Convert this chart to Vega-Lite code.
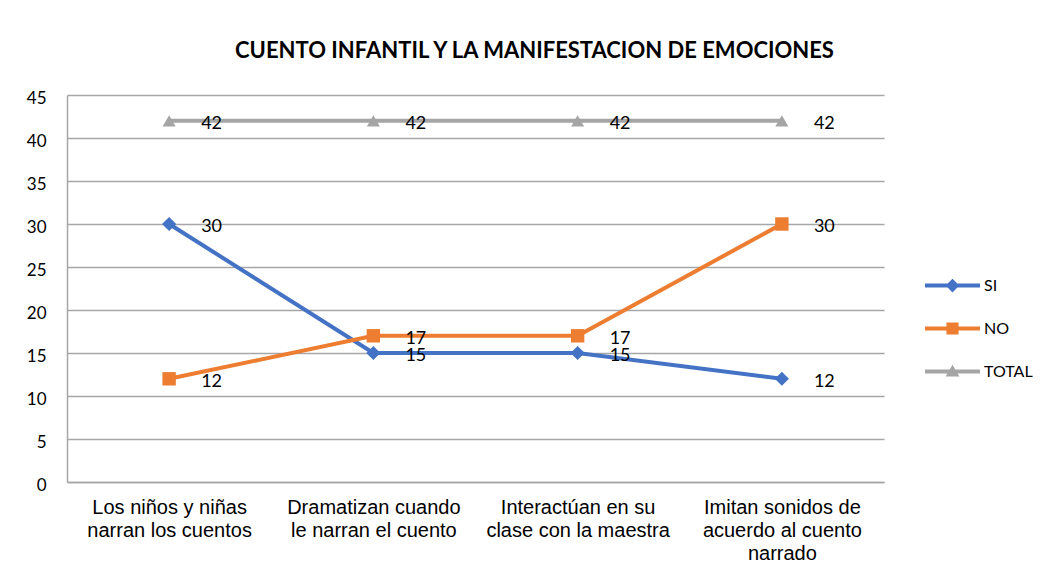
{
  "$schema": "https://vega.github.io/schema/vega-lite/v6.json",
  "autosize": {"type": "none"},
  "width": 817,
  "height": 387,
  "padding": {"left": 67, "top": 95, "right": 166, "bottom": 98},
  "background": "white",
  "title": {
    "text": "CUENTO INFANTIL Y LA MANIFESTACION DE EMOCIONES",
    "anchor": "middle",
    "frame": "group",
    "dx": 59,
    "offset": 9,
    "baseline": "alphabetic",
    "font": "Lato",
    "fontSize": 22,
    "fontWeight": "bold",
    "color": "#000000"
  },
  "data": {
    "values": [
      {"cat": "Los niños y niñas narran los cuentos", "series": "SI", "value": 30},
      {"cat": "Dramatizan cuando le narran el cuento", "series": "SI", "value": 15},
      {"cat": "Interactúan en su clase con la maestra", "series": "SI", "value": 15},
      {"cat": "Imitan sonidos de acuerdo al cuento narrado", "series": "SI", "value": 12},
      {"cat": "Los niños y niñas narran los cuentos", "series": "NO", "value": 12},
      {"cat": "Dramatizan cuando le narran el cuento", "series": "NO", "value": 17},
      {"cat": "Interactúan en su clase con la maestra", "series": "NO", "value": 17},
      {"cat": "Imitan sonidos de acuerdo al cuento narrado", "series": "NO", "value": 30},
      {"cat": "Los niños y niñas narran los cuentos", "series": "TOTAL", "value": 42},
      {"cat": "Dramatizan cuando le narran el cuento", "series": "TOTAL", "value": 42},
      {"cat": "Interactúan en su clase con la maestra", "series": "TOTAL", "value": 42},
      {"cat": "Imitan sonidos de acuerdo al cuento narrado", "series": "TOTAL", "value": 42}
    ]
  },
  "encoding": {
    "x": {
      "field": "cat",
      "type": "nominal",
      "sort": null,
      "scale": {"type": "point", "padding": 0.5},
      "axis": {
        "title": null,
        "labelAngle": 0,
        "labelFont": "Liberation Sans",
        "labelFontSize": 20,
        "labelColor": "#000000",
        "labelLineHeight": 23,
        "labelPadding": 15,
        "labelLimit": 300,
        "ticks": false,
        "domain": true,
        "domainColor": "#a6a6a6",
        "domainWidth": 1.5,
        "grid": false,
        "labelExpr": "datum.value == 'Los niños y niñas narran los cuentos' ? ['Los niños y niñas', 'narran los cuentos'] : datum.value == 'Dramatizan cuando le narran el cuento' ? ['Dramatizan cuando', 'le narran el cuento'] : datum.value == 'Interactúan en su clase con la maestra' ? ['Interactúan en su', 'clase con la maestra'] : ['Imitan sonidos de', 'acuerdo al cuento', 'narrado']"
      }
    },
    "y": {
      "field": "value",
      "type": "quantitative",
      "scale": {"domain": [0, 45], "nice": false, "zero": true},
      "axis": {
        "title": null,
        "values": [0, 5, 10, 15, 20, 25, 30, 35, 40, 45],
        "labelFont": "Lato",
        "labelFontSize": 17,
        "labelColor": "#000000",
        "labelPadding": 21,
        "labelOffset": 3,
        "ticks": false,
        "domain": true,
        "domainColor": "#a6a6a6",
        "domainWidth": 1.5,
        "grid": true,
        "gridColor": "#a6a6a6",
        "gridWidth": 1.5
      }
    }
  },
  "layer": [
    {
      "mark": {"type": "line", "strokeWidth": 4},
      "encoding": {
        "color": {
          "field": "series",
          "type": "nominal",
          "scale": {"domain": ["SI", "NO", "TOTAL"], "range": ["#4472C4", "#ED7D31", "#A5A5A5"]},
          "legend": {
            "title": null,
            "orient": "none",
            "legendX": 858,
            "legendY": 163,
            "symbolSize": 3025,
            "symbolType": "M-1,-0.07L1,-0.07L1,0.07L-1,0.07Z",
            "rowPadding": 7,
            "labelOffset": 4,
            "labelFont": "Lato",
            "labelFontSize": 16,
            "labelColor": "#000000",
            "encode": {
              "symbols": {
                "update": {
                  "shape": {"signal": "datum.value == 'SI' ? 'M-1,-0.07L1,-0.07L1,0.07L-1,0.07Z M0,-0.25L0.25,0L0,0.25L-0.25,0Z' : datum.value == 'NO' ? 'M-1,-0.07L1,-0.07L1,0.07L-1,0.07Z M-0.22,-0.22L0.22,-0.22L0.22,0.22L-0.22,0.22Z' : 'M-1,-0.07L1,-0.07L1,0.07L-1,0.07Z M0,-0.25L0.25,0.18L-0.25,0.18Z'"},
                  "fill": {"signal": "scale('color', datum.value)"},
                  "fillOpacity": {"value": 1},
                  "stroke": {"value": "transparent"},
                  "strokeWidth": {"value": 0}
                }
              }
            }
          }
        }
      }
    },
    {
      "transform": [{"filter": "datum.series == 'SI'"}],
      "mark": {"type": "point", "shape": "diamond", "filled": true, "opacity": 1, "size": 200},
      "encoding": {"color": {"field": "series", "type": "nominal"}}
    },
    {
      "transform": [{"filter": "datum.series == 'NO'"}],
      "mark": {"type": "point", "shape": "square", "filled": true, "opacity": 1, "size": 180},
      "encoding": {"color": {"field": "series", "type": "nominal"}}
    },
    {
      "transform": [{"filter": "datum.series == 'TOTAL'"}],
      "mark": {"type": "point", "shape": "triangle-up", "filled": true, "opacity": 1, "size": 170},
      "encoding": {"color": {"field": "series", "type": "nominal"}}
    },
    {
      "mark": {"type": "text", "align": "left", "baseline": "middle", "dx": 32, "dy": 3, "font": "Lato", "fontSize": 18, "color": "#000000"},
      "encoding": {
        "text": {"field": "value", "type": "quantitative"}
      }
    }
  ],
  "config": {
    "view": {"stroke": null}
  }
}
